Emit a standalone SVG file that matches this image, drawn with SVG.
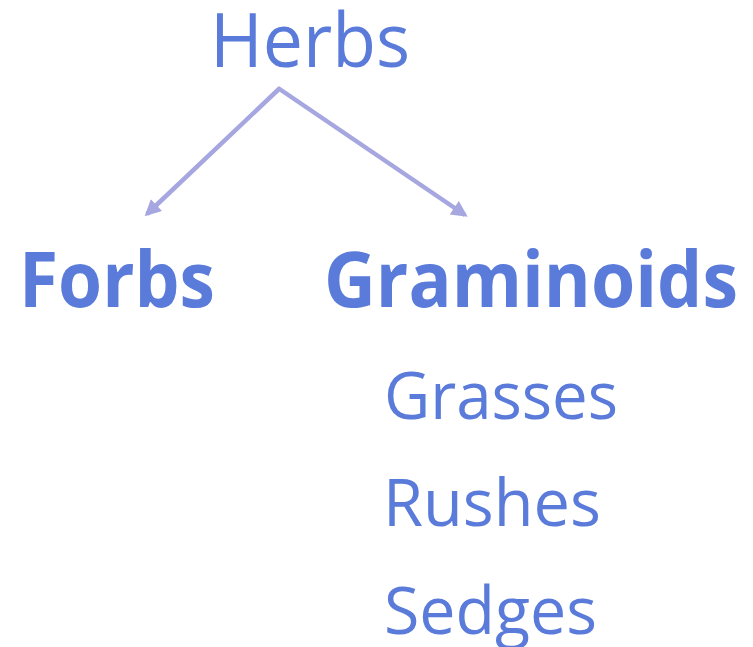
<svg xmlns="http://www.w3.org/2000/svg" width="753" height="647" viewBox="0 0 753 647">
<style>
.t{font-family:"Open Sans","Liberation Sans",sans-serif;fill:#5a7bd9;}
.b{font-weight:bold;}
.c{stroke:#a6a6e0;stroke-width:4.5;fill:none;}
</style>
<defs>
<marker id="ah" viewBox="0 0 10 10" refX="8" refY="5" markerWidth="4.2" markerHeight="3.6" orient="auto" markerUnits="strokeWidth">
<path d="M0,0 L10,5 L0,10 Z" fill="#a6a6e0"/>
</marker>
</defs>
<rect width="753" height="647" fill="#ffffff"/>
<g id="connectors">
<line class="c" x1="280" y1="88" x2="147" y2="214" marker-end="url(#ah)"/>
<line class="c" x1="278" y1="88" x2="465" y2="215" marker-end="url(#ah)"/>
</g>
<g id="herbs"><text class="t" x="210" y="67" font-size="75" textLength="200" lengthAdjust="spacingAndGlyphs">Herbs</text></g>
<g id="forbs"><text class="t b" x="19" y="307" font-size="77" textLength="196" lengthAdjust="spacingAndGlyphs">Forbs</text></g>
<g id="graminoids"><text class="t b" x="324" y="307" font-size="77" textLength="414" lengthAdjust="spacingAndGlyphs">Graminoids</text></g>
<g id="grasses"><text class="t" x="384" y="419" font-size="66" textLength="234" lengthAdjust="spacingAndGlyphs">Grasses</text></g>
<g id="rushes"><text class="t" x="383" y="526" font-size="66" textLength="218" lengthAdjust="spacingAndGlyphs">Rushes</text></g>
<g id="sedges"><text class="t" x="384" y="634" font-size="66" textLength="213" lengthAdjust="spacingAndGlyphs">Sedges</text></g>
</svg>
